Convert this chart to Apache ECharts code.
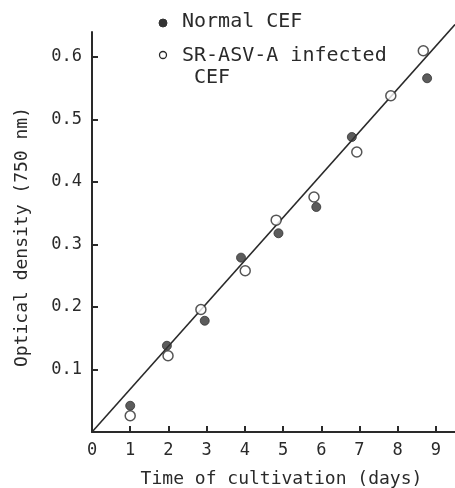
<!DOCTYPE html>
<html><head><meta charset="utf-8">
<script src="https://cdn.jsdelivr.net/npm/echarts@6/dist/echarts.min.js"></script>
<style>html,body{margin:0;padding:0;background:#fff}#c{width:455px;height:488px}</style>
</head><body><div id="c"></div>
<script>
const normalX = [1.0, 1.96, 2.95, 3.9, 4.88, 5.87, 6.8, 8.77];
const normalY = [0.042, 0.138, 0.178, 0.279, 0.318, 0.36, 0.472, 0.566];
const infectedX = [1.0, 1.99, 2.85, 4.01, 4.82, 5.81, 6.93, 7.82, 8.67];
const infectedY = [0.026, 0.122, 0.196, 0.258, 0.339, 0.376, 0.448, 0.538, 0.61];
const fitX = [0, 9.5];
const fitY = [0, 0.652];
const xTicks = [0,1,2,3,4,5,6,7,8,9];
const yTicks = [0.1,0.2,0.3,0.4,0.5,0.6];
const legendNames = ['Normal CEF', 'SR-ASV-A infected', ' CEF'];

const ink = '#2a2a2a';
const font = 'DejaVu Sans Mono';
const chart = echarts.init(document.getElementById('c'));
const legendText = (txt, x, y) => ({type: 'text', left: x, top: y,
  style: {text: txt, fontFamily: font, fontSize: 20, fill: ink}});
chart.setOption({
  animation: false,
  backgroundColor: '#fff',
  grid: {left: 92, right: 0, top: 32, bottom: 56, outerBoundsMode: 'none', containLabel: false},
  graphic: [
    {type: 'circle', shape: {cx: 163, cy: 23, r: 4}, style: {fill: '#333', stroke: '#333', lineWidth: 1}},
    legendText(legendNames[0], 182, 12),
    {type: 'circle', shape: {cx: 163, cy: 55, r: 3.5}, style: {fill: '#fff', stroke: ink, lineWidth: 1.3}},
    legendText(legendNames[1], 182, 46),
    legendText(legendNames[2], 182, 68)
  ],
  xAxis: {
    type: 'value', min: 0, max: 9.5, interval: 1,
    name: 'Time of cultivation (days)', nameLocation: 'middle', nameGap: 38,
    nameTextStyle: {fontFamily: font, fontSize: 18, color: ink, padding: [0,0,0,16]},
    axisLine: {lineStyle: {color: ink, width: 2}},
    axisTick: {inside: true, length: 6, lineStyle: {color: ink, width: 2}},
    axisLabel: {fontFamily: font, fontSize: 17, color: ink, margin: 10,
      showMaxLabel: false,
      formatter: v => xTicks.includes(v) ? String(v) : ''},
    splitLine: {show: false}
  },
  yAxis: {
    type: 'value', min: 0, max: 0.64, interval: 0.1,
    name: 'Optical density (750 nm)', nameLocation: 'middle', nameGap: 61,
    nameTextStyle: {fontFamily: font, fontSize: 18, color: ink, padding: [0,10,0,0]},
    axisLine: {show: true, lineStyle: {color: ink, width: 2}},
    axisTick: {show: true, inside: true, length: 6, lineStyle: {color: ink, width: 2}},
    axisLabel: {fontFamily: font, fontSize: 17, color: ink, margin: 10,
      showMaxLabel: false,
      formatter: v => yTicks.some(t => Math.abs(t - v) < 1e-6) ? v.toFixed(1) : ''},
    splitLine: {show: false}
  },
  series: [
    {
      name: 'fit', type: 'line', data: fitX.map((x,i)=>[x, fitY[i]]),
      showSymbol: false, symbol: 'none', clip: false, silent: true,
      lineStyle: {color: ink, width: 1.6}, z: 1
    },
    {
      name: 'Normal CEF', type: 'scatter', symbol: 'circle', symbolSize: 9,
      data: normalX.map((x,i)=>[x, normalY[i]]),
      itemStyle: {color: '#333', borderColor: '#333', borderWidth: 1}, z: 3
    },
    {
      name: 'SR-ASV-A infected CEF', type: 'scatter', symbol: 'circle', symbolSize: 10,
      data: infectedX.map((x,i)=>[x, infectedY[i]]),
      itemStyle: {color: '#fff', borderColor: ink, borderWidth: 1.5}, z: 4
    }
  ]
});
</script></body></html>
